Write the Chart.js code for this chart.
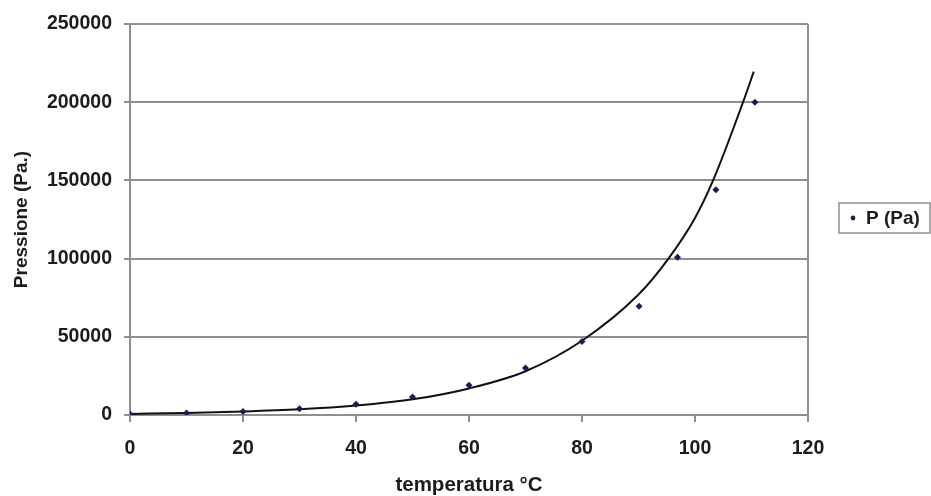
<!DOCTYPE html>
<html>
<head>
<meta charset="utf-8">
<script src="https://cdn.jsdelivr.net/npm/chart.js@4"></script>
<style>
  html, body { margin: 0; padding: 0; background: #fff; }
  #wrap { width: 931px; height: 496px; position: relative; }
</style>
</head>
<body>
<div id="wrap"><canvas id="chart"></canvas></div>
<script>
// measured points (temperatura °C, Pa)
const tempPoints = [0, 10, 20, 30, 40, 50, 60, 70, 80, 90.1, 96.9, 103.7, 110.6];
const pressPoints = [600, 1200, 2300, 4000, 6800, 11500, 19000, 30000, 47000, 69500, 100800, 144000, 200000];

// trend curve
const trendTemp = [0, 10, 20, 30, 40, 50, 60, 70, 80, 90, 95.3, 100, 103.2, 108.5, 110.4];
const trendPress = [700, 1300, 2200, 3600, 6000, 10000, 17000, 28000, 47500, 77000, 100000, 126000, 150000, 200000, 219500];

const xTicks = [0, 20, 40, 60, 80, 100, 120];
const yTicks = [0, 50000, 100000, 150000, 200000, 250000];

const FONT = '"Liberation Sans", Arial, sans-serif';
const GRID = '#8f8f8f';
const TEXT = '#1c1c1c';

Chart.defaults.font.family = FONT;
Chart.defaults.font.weight = 'bold';
Chart.defaults.font.size = 19.5;
Chart.defaults.color = TEXT;

// legend box drawn to the right of the plot, like the original
const boxLegend = {
  id: 'boxLegend',
  afterDraw(chart) {
    const ctx = chart.ctx;
    const ds = chart.data.datasets[0];
    const x = 839, y = 203, w = 91, h = 30;
    ctx.save();
    ctx.strokeStyle = GRID;
    ctx.lineWidth = 1.5;
    ctx.strokeRect(x, y, w, h);
    ctx.fillStyle = ds.pointBackgroundColor;
    ctx.beginPath();
    ctx.arc(x + 14, y + h / 2, 2.4, 0, Math.PI * 2);
    ctx.fill();
    ctx.fillStyle = TEXT;
    ctx.font = 'bold 19px ' + FONT;
    ctx.textBaseline = 'middle';
    ctx.fillText(ds.label, x + 27, y + h / 2 + 1);
    ctx.restore();
  }
};

new Chart(document.getElementById('chart'), {
  type: 'scatter',
  data: {
    datasets: [
      {
        label: 'P (Pa)',
        data: tempPoints.map((t, i) => ({ x: t, y: pressPoints[i] })),
        pointStyle: 'rectRot',
        pointRadius: 3.5,
        pointBackgroundColor: '#1b1b55',
        pointBorderColor: '#1b1b55',
        borderWidth: 0,
        order: 1
      },
      {
        label: 'trend',
        data: trendTemp.map((t, i) => ({ x: t, y: trendPress[i] })),
        showLine: true,
        borderColor: '#111',
        borderWidth: 2,
        pointRadius: 0,
        cubicInterpolationMode: 'monotone',
        order: 2
      }
    ]
  },
  options: {
    responsive: true,
    maintainAspectRatio: false,
    animation: false,
    layout: { padding: { top: 24, right: 123, left: 0, bottom: 0 } },
    plugins: {
      legend: { display: false },
      tooltip: { enabled: false }
    },
    scales: {
      x: {
        type: 'linear',
        min: 0,
        max: 120,
        afterBuildTicks: s => { s.ticks = xTicks.map(v => ({ value: v })); },
        afterFit: s => { s.height = 81; },
        grid: {
          color: c => (c.tick && c.tick.value === 120 ? GRID : 'transparent'),
          tickColor: GRID,
          tickLength: 7,
          lineWidth: 2
        },
        border: { color: GRID, width: 2 },
        ticks: { padding: 15, maxRotation: 0 },
        title: {
          display: true,
          text: 'temperatura °C',
          padding: { top: 0, bottom: 0 },
          font: { size: 20.5, weight: 'bold', lineHeight: 1 }
        }
      },
      y: {
        type: 'linear',
        min: 0,
        max: 250000,
        afterBuildTicks: s => { s.ticks = yTicks.map(v => ({ value: v })); },
        afterFit: s => { s.width = 130; },
        grid: { color: GRID, tickColor: GRID, tickLength: 6, lineWidth: 2 },
        border: { color: GRID, width: 2 },
        ticks: { padding: 12, callback: v => String(v) },
        title: {
          display: true,
          text: 'Pressione (Pa.)',
          padding: { top: 10, bottom: 0 },
          font: { size: 19, weight: 'bold' }
        }
      }
    }
  },
  plugins: [boxLegend]
});
</script>
</body>
</html>
